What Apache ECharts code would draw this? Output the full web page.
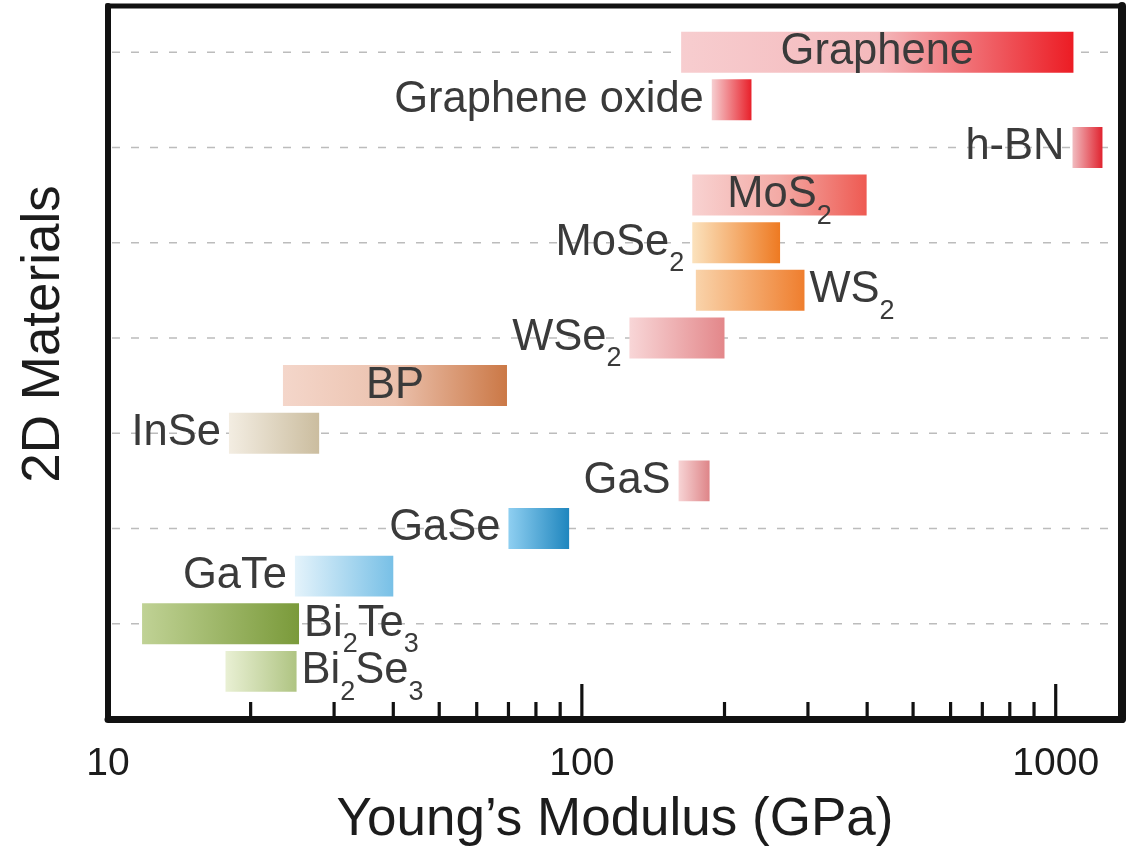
<!DOCTYPE html>
<html>
<head>
<meta charset="utf-8">
<title>Young's modulus of 2D materials</title>
<script src="https://cdn.jsdelivr.net/npm/echarts@6/dist/echarts.min.js"></script>
<style>
  html, body { margin: 0; padding: 0; background: #ffffff; }
  #chart { width: 1137px; height: 852px; }
</style>
</head>
<body>
<div id="chart"></div>
<script>
// ---- data -------------------------------------------------------------
const materials = ['Graphene', 'Graphene oxide', 'h-BN', 'MoS2', 'MoSe2', 'WS2', 'WSe2',
                   'BP', 'InSe', 'GaS', 'GaSe', 'GaTe', 'Bi2Te3', 'Bi2Se3'];
// rich-text versions of the names (subscripts)
const labelText = ['Graphene', 'Graphene oxide', 'h-BN', 'MoS{s|2}', 'MoSe{s|2}', 'WS{s|2}', 'WSe{s|2}',
                   'BP', 'InSe', 'GaS', 'GaSe', 'GaTe', 'Bi{s|2}Te{s|3}', 'Bi{s|2}Se{s|3}'];
// Young's modulus range, GPa
const modulusLow  = [162, 188, 1085, 171, 171, 174, 126, 23.4, 18.0, 160, 70, 24.8, 11.8, 17.7];
const modulusHigh = [1090, 228, 1255, 399, 262, 295, 200, 69.5, 27.9, 186, 94, 40, 25.3, 25.0];
const gridRows   = [0, 2, 4, 6, 8, 10, 12];
const majorTicks = [10, 100, 1000];
const minorTicks = [20, 30, 40, 50, 60, 70, 80, 90, 200, 300, 400, 500, 600, 700, 800, 900];

// ---- styling ----------------------------------------------------------
const FONT = '"Liberation Sans", Arial, Helvetica, sans-serif';
const X_MIN = 10, X_MAX = 1380;
const Y_MIN = -0.97, Y_MAX = 14;
const labelSide = ['inside', 'left', 'left', 'inside', 'left', 'right', 'left',
                   'inside', 'left', 'left', 'left', 'left', 'right', 'right'];
const palette = [
  ['#f7cdcf', '#f4b9bc', '#ec1c24'],   // Graphene
  ['#f6cfd1', '#e8202a'],              // Graphene oxide
  ['#f1bcc0', '#e0232f'],              // h-BN
  ['#f8d2d1', '#f3aaa5', '#ee5a52'],   // MoS2
  ['#fbe2bd', '#ee7a22'],              // MoSe2
  ['#f9d3aa', '#ef7e2e'],              // WS2
  ['#f8d6d7', '#e3878a'],              // WSe2
  ['#f4d6ca', '#ebc1ad', '#cb7846'],   // BP
  ['#f3ede2', '#cbbd9f'],              // InSe
  ['#f7d4d5', '#de8588'],              // GaS
  ['#8fcff1', '#1f86be'],              // GaSe
  ['#e4f3fb', '#78c0e6'],              // GaTe
  ['#c0d295', '#7a9a3a'],              // Bi2Te3
  ['#e9f0d4', '#afc482']               // Bi2Se3
];
const LABEL_COLOR = '#3a3a3a';

function gradient(colors) {
  return {
    type: 'linear', x: 0, y: 0, x2: 1, y2: 0,
    colorStops: colors.map((c, k) => ({ offset: k / (colors.length - 1), color: c }))
  };
}

function renderBar(params, api) {
  const i = params.dataIndex;
  const row = api.value(0);
  const p0 = api.coord([api.value(1), row - 0.43]);
  const p1 = api.coord([api.value(2), row + 0.43]);
  const side = labelSide[i];
  return {
    type: 'rect',
    shape: {
      x: p0[0], y: Math.min(p0[1], p1[1]),
      width: p1[0] - p0[0], height: Math.abs(p1[1] - p0[1])
    },
    style: { fill: gradient(palette[i]) },
    textContent: {
      style: {
        text: labelText[i],
        fontSize: 43.5, fontFamily: FONT, fill: LABEL_COLOR,
        rich: {
          s: { fontSize: 27, fontFamily: FONT, fill: LABEL_COLOR, padding: [42, 0, 0, 0] }
        }
      }
    },
    textConfig: { position: side, distance: side === 'left' ? 8 : 5, inside: false }
  };
}

function renderGridLine(params, api) {
  const row = api.value(0);
  const a = api.coord([X_MIN, row]);
  const b = api.coord([X_MAX, row]);
  return {
    type: 'line',
    shape: { x1: a[0] + 4, y1: a[1], x2: b[0] - 4, y2: b[1] },
    style: { stroke: '#bcbcbc', lineWidth: 1.6, lineDash: [8, 11] }
  };
}

function renderTick(params, api) {
  const v = api.value(0);
  const major = api.value(1) === 1;
  const p = api.coord([v, Y_MAX]);
  return {
    type: 'line',
    shape: { x1: p[0], y1: p[1], x2: p[0], y2: p[1] - (major ? 35 : 17) },
    style: { stroke: '#111111', lineWidth: 3.2 }
  };
}

const chart = echarts.init(document.getElementById('chart'));
chart.setOption({
  animation: false,
  backgroundColor: '#ffffff',
  grid: {
    left: 108, right: 15, top: 6, bottom: 133,
    show: true, borderColor: '#111111', borderWidth: 5, z: 10
  },
  xAxis: [{
    type: 'log', logBase: 10, min: X_MIN, max: X_MAX,
    z: 10,
    axisLine: { show: true, onZero: false, lineStyle: { color: '#111111', width: 7 } },
    axisTick: { show: false },
    splitLine: { show: false },
    axisLabel: {
      fontSize: 39, fontFamily: FONT, color: '#1c1c1c', margin: 26,
      formatter: v => majorTicks.indexOf(Math.round(v)) >= 0 ? String(Math.round(v)) : ''
    },
    name: 'Young\u2019s Modulus (GPa)',
    nameLocation: 'middle', nameGap: 75,
    nameTextStyle: { fontSize: 53, fontFamily: FONT, color: '#1c1c1c' }
  }],
  yAxis: [{
    type: 'value', inverse: true, min: Y_MIN, max: Y_MAX,
    z: 10,
    axisLine: { show: true, onZero: false, lineStyle: { color: '#111111', width: 6 } },
    axisTick: { show: false },
    axisLabel: { show: false },
    splitLine: { show: false },
    name: '2D Materials',
    nameLocation: 'middle', nameGap: 37,
    nameTextStyle: { fontSize: 53, fontFamily: FONT, color: '#1c1c1c', padding: [0, 0, 0, 57] }
  }, {
    type: 'value', inverse: true, min: Y_MIN, max: Y_MAX, position: 'right',
    z: 10,
    axisLine: { show: true, onZero: false, lineStyle: { color: '#111111', width: 8 } },
    axisTick: { show: false }, axisLabel: { show: false }, splitLine: { show: false }
  }],
  series: [
    {
      name: 'grid lines', type: 'custom', z: 1, silent: true,
      renderItem: renderGridLine,
      data: gridRows.map(r => [r])
    },
    {
      name: 'Young\u2019s modulus', type: 'custom', z: 3,
      renderItem: renderBar,
      encode: { x: [1, 2], y: 0 },
      data: materials.map((m, i) => [i, modulusLow[i], modulusHigh[i]])
    },
    {
      name: 'ticks', type: 'custom', z: 4, silent: true, clip: false,
      renderItem: renderTick,
      data: majorTicks.map(v => [v, 1]).concat(minorTicks.map(v => [v, 0]))
    }
  ]
});
</script>
</body>
</html>
